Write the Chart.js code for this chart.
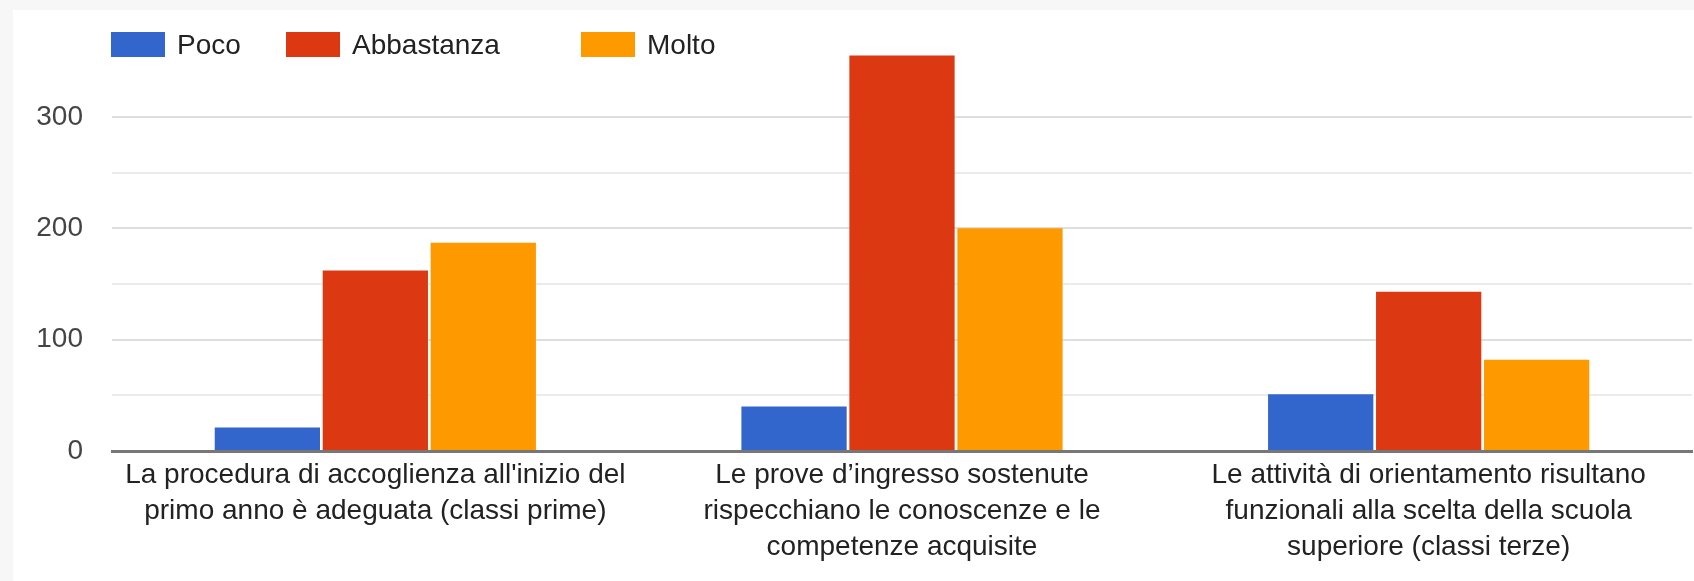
<!DOCTYPE html>
<html lang="it">
<head>
<meta charset="utf-8">
<title>Grafico</title>
<script src="https://cdn.jsdelivr.net/npm/chart.js@4.4.1/dist/chart.umd.min.js"></script>
<style>
  html, body {
    margin: 0;
    padding: 0;
    width: 1694px;
    height: 581px;
    background: #f7f7f7;
    overflow: hidden;
    font-family: "Liberation Sans", Arial, sans-serif;
  }
  .card {
    position: absolute;
    left: 13px;
    top: 10px;
    width: 1681px;
    height: 571px;
    background: #ffffff;
  }
  #chart {
    position: absolute;
    left: 0;
    top: 0;
  }
  .legend-item {
    position: absolute;
    top: 22px;
    height: 25px;
    display: flex;
    align-items: center;
    font-size: 28px;
    color: #222;
    white-space: nowrap;
  }
  .legend-box {
    width: 54px;
    height: 25px;
    margin-right: 12px;
  }
</style>
</head>
<body>
<div class="card">
  <canvas id="chart" width="1681" height="571"></canvas>
  <div id="legend"></div>
</div>
<script>
const categories = [
  ["La procedura di accoglienza all'inizio del", "primo anno è adeguata (classi prime)"],
  ["Le prove d’ingresso sostenute", "rispecchiano le conoscenze e le", "competenze acquisite"],
  ["Le attività di orientamento risultano", "funzionali alla scelta della scuola", "superiore (classi terze)"]
];
const seriesNames = ['Poco', 'Abbastanza', 'Molto'];
const poco = [21, 40, 51];
const abbastanza = [162, 355, 143];
const molto = [187, 200, 82];
const yTicks = [0, 100, 200, 300];

const colors = ['#3366cc', '#dc3912', '#ff9900'];
const legendLeft = [98, 273, 568];

const ctx = document.getElementById('chart');
const data = {
  labels: categories,
  datasets: [poco, abbastanza, molto].map((values, i) => ({
    label: seriesNames[i],
    data: values,
    backgroundColor: colors[i],
    borderWidth: 0,
    categoryPercentage: 0.615,
    barPercentage: 0.975
  }))
};

const options = {
  responsive: false,
  animation: false,
  layout: {
    padding: { top: 40, right: 2, left: 0, bottom: 0 }
  },
  plugins: {
    legend: { display: false },
    tooltip: { enabled: false }
  },
  scales: {
    x: {
      z: 1,
      grid: { display: false },
      border: { display: true, color: '#777777', width: 3 },
      ticks: {
        autoSkip: false,
        maxRotation: 0,
        padding: -1,
        color: '#222',
        font: { family: '"Liberation Sans", Arial, sans-serif', size: 28, lineHeight: 1.27 }
      },
      afterFit: scale => { scale.height = 130; }
    },
    y: {
      min: 0,
      max: 360,
      border: { display: false },
      afterBuildTicks: scale => {
        scale.ticks = scale.ticks.filter(t => t.value % 50 === 0);
      },
      grid: {
        drawTicks: false,
        lineWidth: 2,
        color: c => {
          if (c.tick.value === 0) return '#777777';
          return yTicks.includes(c.tick.value) ? '#dedede' : '#ebebeb';
        }
      },
      ticks: {
        stepSize: 50,
        padding: 29,
        color: '#444',
        font: { family: '"Liberation Sans", Arial, sans-serif', size: 28 },
        callback: value => yTicks.includes(value) ? value : ''
      },
      afterFit: scale => {
        scale.width = 99;
        // tick padding should not push the chart area down
        scale.paddingTop = 0;
        scale.paddingBottom = 0;
      }
    }
  }
};

const chart = new Chart(ctx, {
  type: 'bar',
  data,
  options
});

// legend in html, built from the datasets
const legend = document.getElementById('legend');
chart.data.datasets.forEach((ds, i) => {
  const item = document.createElement('div');
  item.className = 'legend-item';
  item.style.left = legendLeft[i] + 'px';
  const box = document.createElement('span');
  box.className = 'legend-box';
  box.style.background = ds.backgroundColor;
  const text = document.createElement('span');
  text.textContent = ds.label;
  item.appendChild(box);
  item.appendChild(text);
  legend.appendChild(item);
});
</script>
</body>
</html>
